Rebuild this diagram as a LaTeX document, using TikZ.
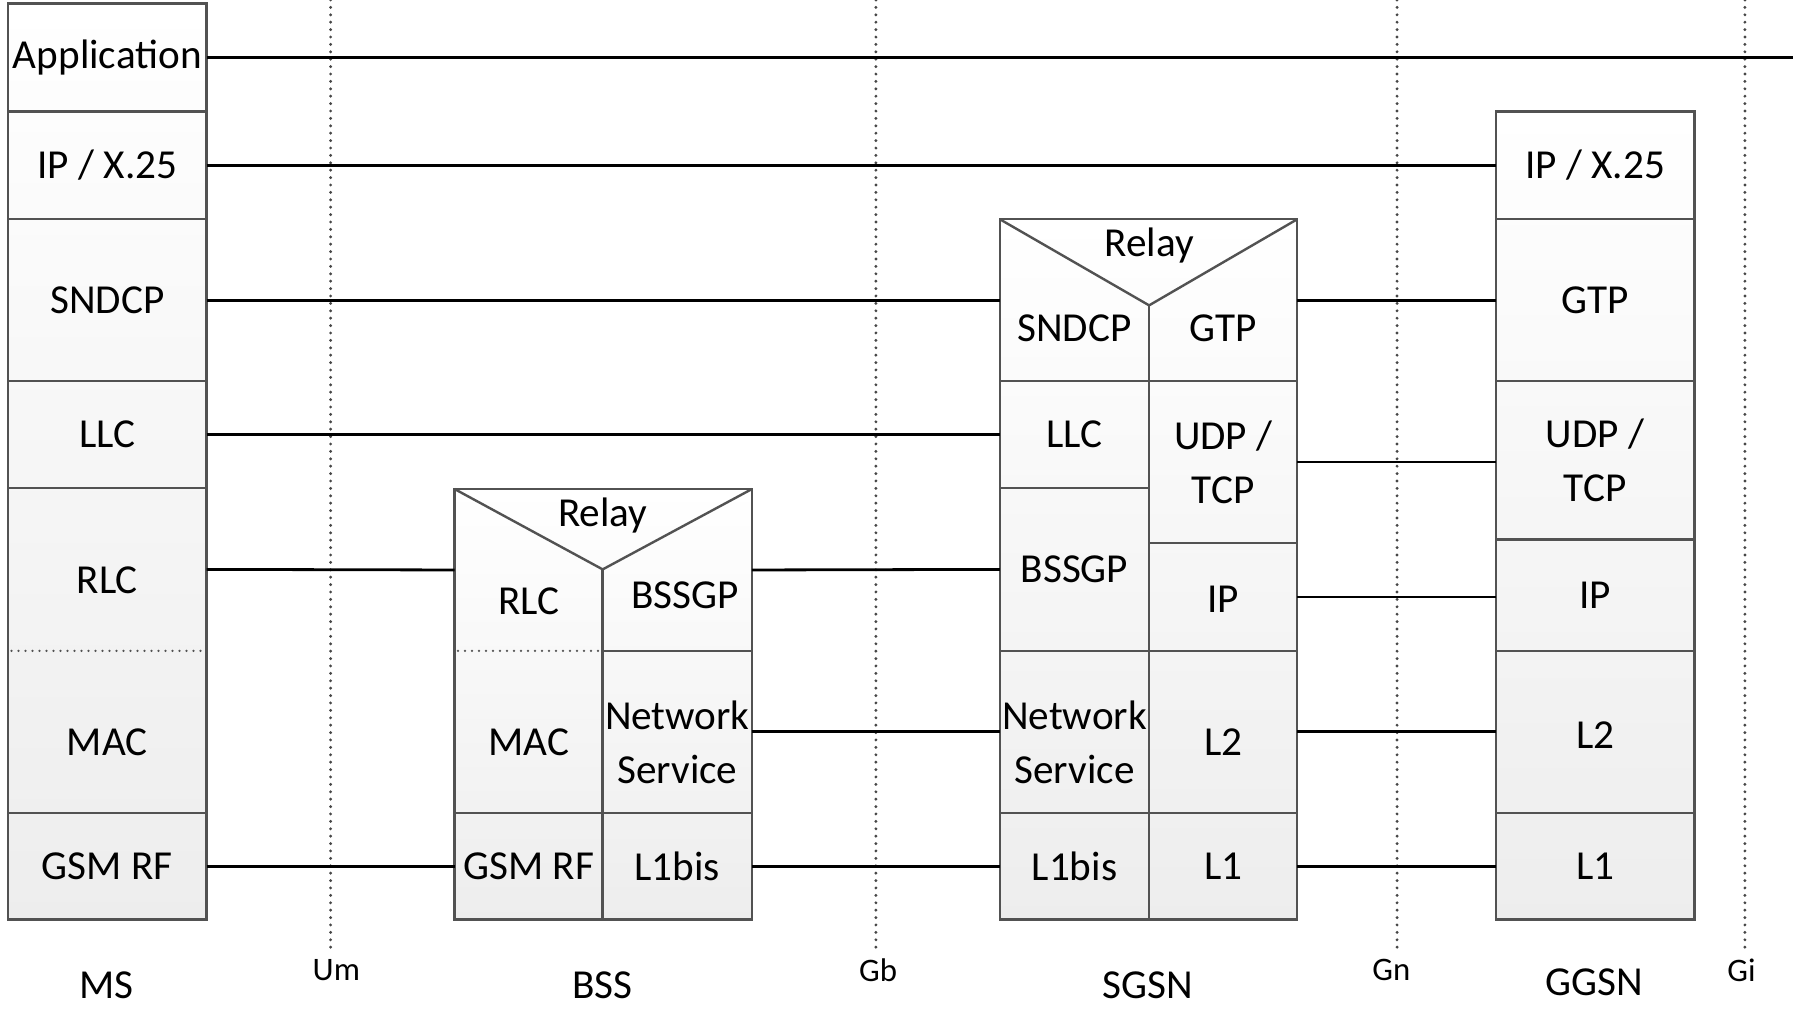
\documentclass[tikz,border=0pt]{standalone}
\usepackage{fontspec}
\setmainfont{Carlito}
\usetikzlibrary{fit}

\tikzset{
  x=0.574pt, y=-0.574pt,
  border/.style={draw=black!68, line width=1.2pt},
  link/.style={draw=black, line width=1.4pt},
  iface/.style={draw=black!72, line width=1.6pt, line cap=round, dash pattern=on 0pt off 3.7pt},
  sublayer/.style={draw=black!68, line width=1.3pt, line cap=round, dash pattern=on 0pt off 3.5pt},
  stackbg/.style={top color=white, bottom color=black!7},
  cell/.style={inner sep=0pt, outer sep=0pt},
  lbl/.style={font=\fontsize{20.6}{27}\selectfont, align=center, inner sep=0pt},
  small/.style={font=\fontsize{16.4}{20}\selectfont, inner sep=0pt},
}

% \layer{name}{corner}{corner}{text shift}{text}
\newcommand{\layer}[5]{%
  \node[cell, fit={#2 #3}, label={[lbl, yshift=#4]center:#5}] (#1) {};}

\begin{document}
\begin{tikzpicture}
\useasboundingbox (0,0) rectangle (1568,879);

% interface reference lines
\foreach \nm/\xx in {um/288, gb/763, gn/1217, gi/1520} {
  \coordinate (\nm-top) at (\xx,0);
  \coordinate (\nm-bot) at (\xx,827);
  \draw[iface] (\nm-top) -- (\nm-bot);
}
\node[small] (lab-um) at (293,845) {Um};
\node[small] (lab-gb) at (765,845) {Gb};
\node[small] (lab-gn) at (1212,845) {Gn};
\node[small] (lab-gi) at (1517,845) {Gi};

% stack backgrounds
\shade[stackbg] (7,3) rectangle (180,801);
\shade[stackbg] (396,426) rectangle (655,801);
\shade[stackbg] (871,191) rectangle (1130,801);
\shade[stackbg] (1303,97) rectangle (1476,801);

% ---------- MS ----------
\layer{ms-app}{(7,3)}{(180,97)}{0pt}{Application}
\layer{ms-ip}{(7,97)}{(180,191)}{0pt}{IP / X.25}
\layer{ms-sndcp}{(7,191)}{(180,332)}{0pt}{SNDCP}
\layer{ms-llc}{(7,332)}{(180,425)}{0pt}{LLC}
\layer{ms-rlc}{(7,425)}{(180,567)}{-5.2pt}{RLC}
\layer{ms-mac}{(7,567)}{(180,708)}{-5.2pt}{MAC}
\layer{ms-rf}{(7,708)}{(180,801)}{0pt}{GSM RF}
\draw[border] (7,3) rectangle (180,801);
\foreach \yy in {97,191,332,425,708} \draw[border] (7,\yy) -- (180,\yy);
\draw[sublayer] (10,567) -- (177,567);

% ---------- BSS ----------
\layer{bss-rlc}{(396,426)}{(525,567)}{-15.5pt}{RLC}
\layer{bss-mac}{(396,567)}{(525,708)}{-5.2pt}{MAC}
\layer{bss-rf}{(396,708)}{(525,801)}{0pt}{GSM RF}
\layer{bss-bssgp}{(525,426)}{(655,567)}{-12.6pt}{\hspace*{8pt}BSSGP}
\layer{bss-ns}{(525,567)}{(655,708)}{-5.2pt}{Network\\Service}
\layer{bss-l1}{(525,708)}{(655,801)}{0pt}{L1bis}
\node[lbl] (bss-relay) at (525,449) {Relay};
\draw[border] (396,426) rectangle (655,801);
\draw[border] (396,426) -- (525,496) coordinate (bss-tip) -- (655,426);
\draw[border] (bss-tip) -- (525,801);
\draw[border] (525,567) -- (655,567);
\draw[border] (396,708) -- (655,708);
\draw[sublayer] (399,567) -- (522,567);

% ---------- SGSN ----------
\layer{sgsn-sndcp}{(871,191)}{(1001,332)}{-13.8pt}{SNDCP}
\layer{sgsn-llc}{(871,332)}{(1001,425)}{0pt}{LLC}
\layer{sgsn-bssgp}{(871,425)}{(1001,567)}{0pt}{BSSGP}
\layer{sgsn-ns}{(871,567)}{(1001,708)}{-5.2pt}{Network\\Service}
\layer{sgsn-l1bis}{(871,708)}{(1001,801)}{0pt}{L1bis}
\layer{sgsn-gtp}{(1001,191)}{(1130,332)}{-13.8pt}{GTP}
\layer{sgsn-udp}{(1001,332)}{(1130,473)}{0pt}{UDP /\\TCP}
\layer{sgsn-ip}{(1001,473)}{(1130,567)}{-1pt}{IP}
\layer{sgsn-l2}{(1001,567)}{(1130,708)}{-5.2pt}{L2}
\layer{sgsn-l1}{(1001,708)}{(1130,801)}{0pt}{L1}
\node[lbl] (sgsn-relay) at (1001,214) {Relay};
\draw[border] (871,191) rectangle (1130,801);
\draw[border] (871,191) -- (1001,266) coordinate (sgsn-tip) -- (1130,191);
\draw[border] (sgsn-tip) -- (1001,801);
\foreach \yy in {332,567,708} \draw[border] (871,\yy) -- (1130,\yy);
\draw[border] (871,425) -- (1001,425);
\draw[border] (1001,473) -- (1130,473);

% ---------- GGSN ----------
\layer{ggsn-ip}{(1303,97)}{(1476,191)}{0pt}{IP / X.25}
\layer{ggsn-gtp}{(1303,191)}{(1476,332)}{0pt}{GTP}
\layer{ggsn-udp}{(1303,332)}{(1476,470)}{0pt}{UDP /\\TCP}
\layer{ggsn-ipl}{(1303,470)}{(1476,567)}{0pt}{IP}
\layer{ggsn-l2}{(1303,567)}{(1476,708)}{-1.7pt}{L2}
\layer{ggsn-l1}{(1303,708)}{(1476,801)}{0pt}{L1}
\draw[border] (1303,97) rectangle (1476,801);
\foreach \yy in {191,332,470,567,708} \draw[border] (1303,\yy) -- (1476,\yy);

% ---------- peer links ----------
\coordinate (app-end) at (1562,50);
\draw[link] (ms-app.east) -- (app-end);
\draw[link] (ms-ip.east) -- (ggsn-ip.west);
\draw[link] (ms-sndcp.east) -- (sgsn-sndcp.west);
\draw[link] (ms-llc.east) -- (sgsn-llc.west);
\draw[link] (ms-rlc.east) -- (bss-rlc.west);
\draw[link] (ms-rf.east) -- (bss-rf.west);
\draw[link] (bss-bssgp.east) -- (sgsn-bssgp.west);
\draw[link] (bss-ns.east) -- (sgsn-ns.west);
\draw[link] (bss-l1.east) -- (sgsn-l1bis.west);
\draw[link] (sgsn-gtp.east) -- (ggsn-gtp.west);
\draw[link] (sgsn-udp.east) -- (sgsn-udp.east -| ggsn-udp.west);
\draw[link] (sgsn-ip.east) -- (sgsn-ip.east -| ggsn-ipl.west);
\draw[link] (sgsn-l2.east) -- (ggsn-l2.west);
\draw[link] (sgsn-l1.east) -- (ggsn-l1.west);

% node names
\node[lbl] (name-ms) at (93,858) {MS};
\node[lbl] (name-bss) at (525,858) {BSS};
\node[lbl] (name-sgsn) at (1000,858) {SGSN};
\node[lbl] (name-ggsn) at (1389,856) {GGSN};
\end{tikzpicture}
\end{document}
